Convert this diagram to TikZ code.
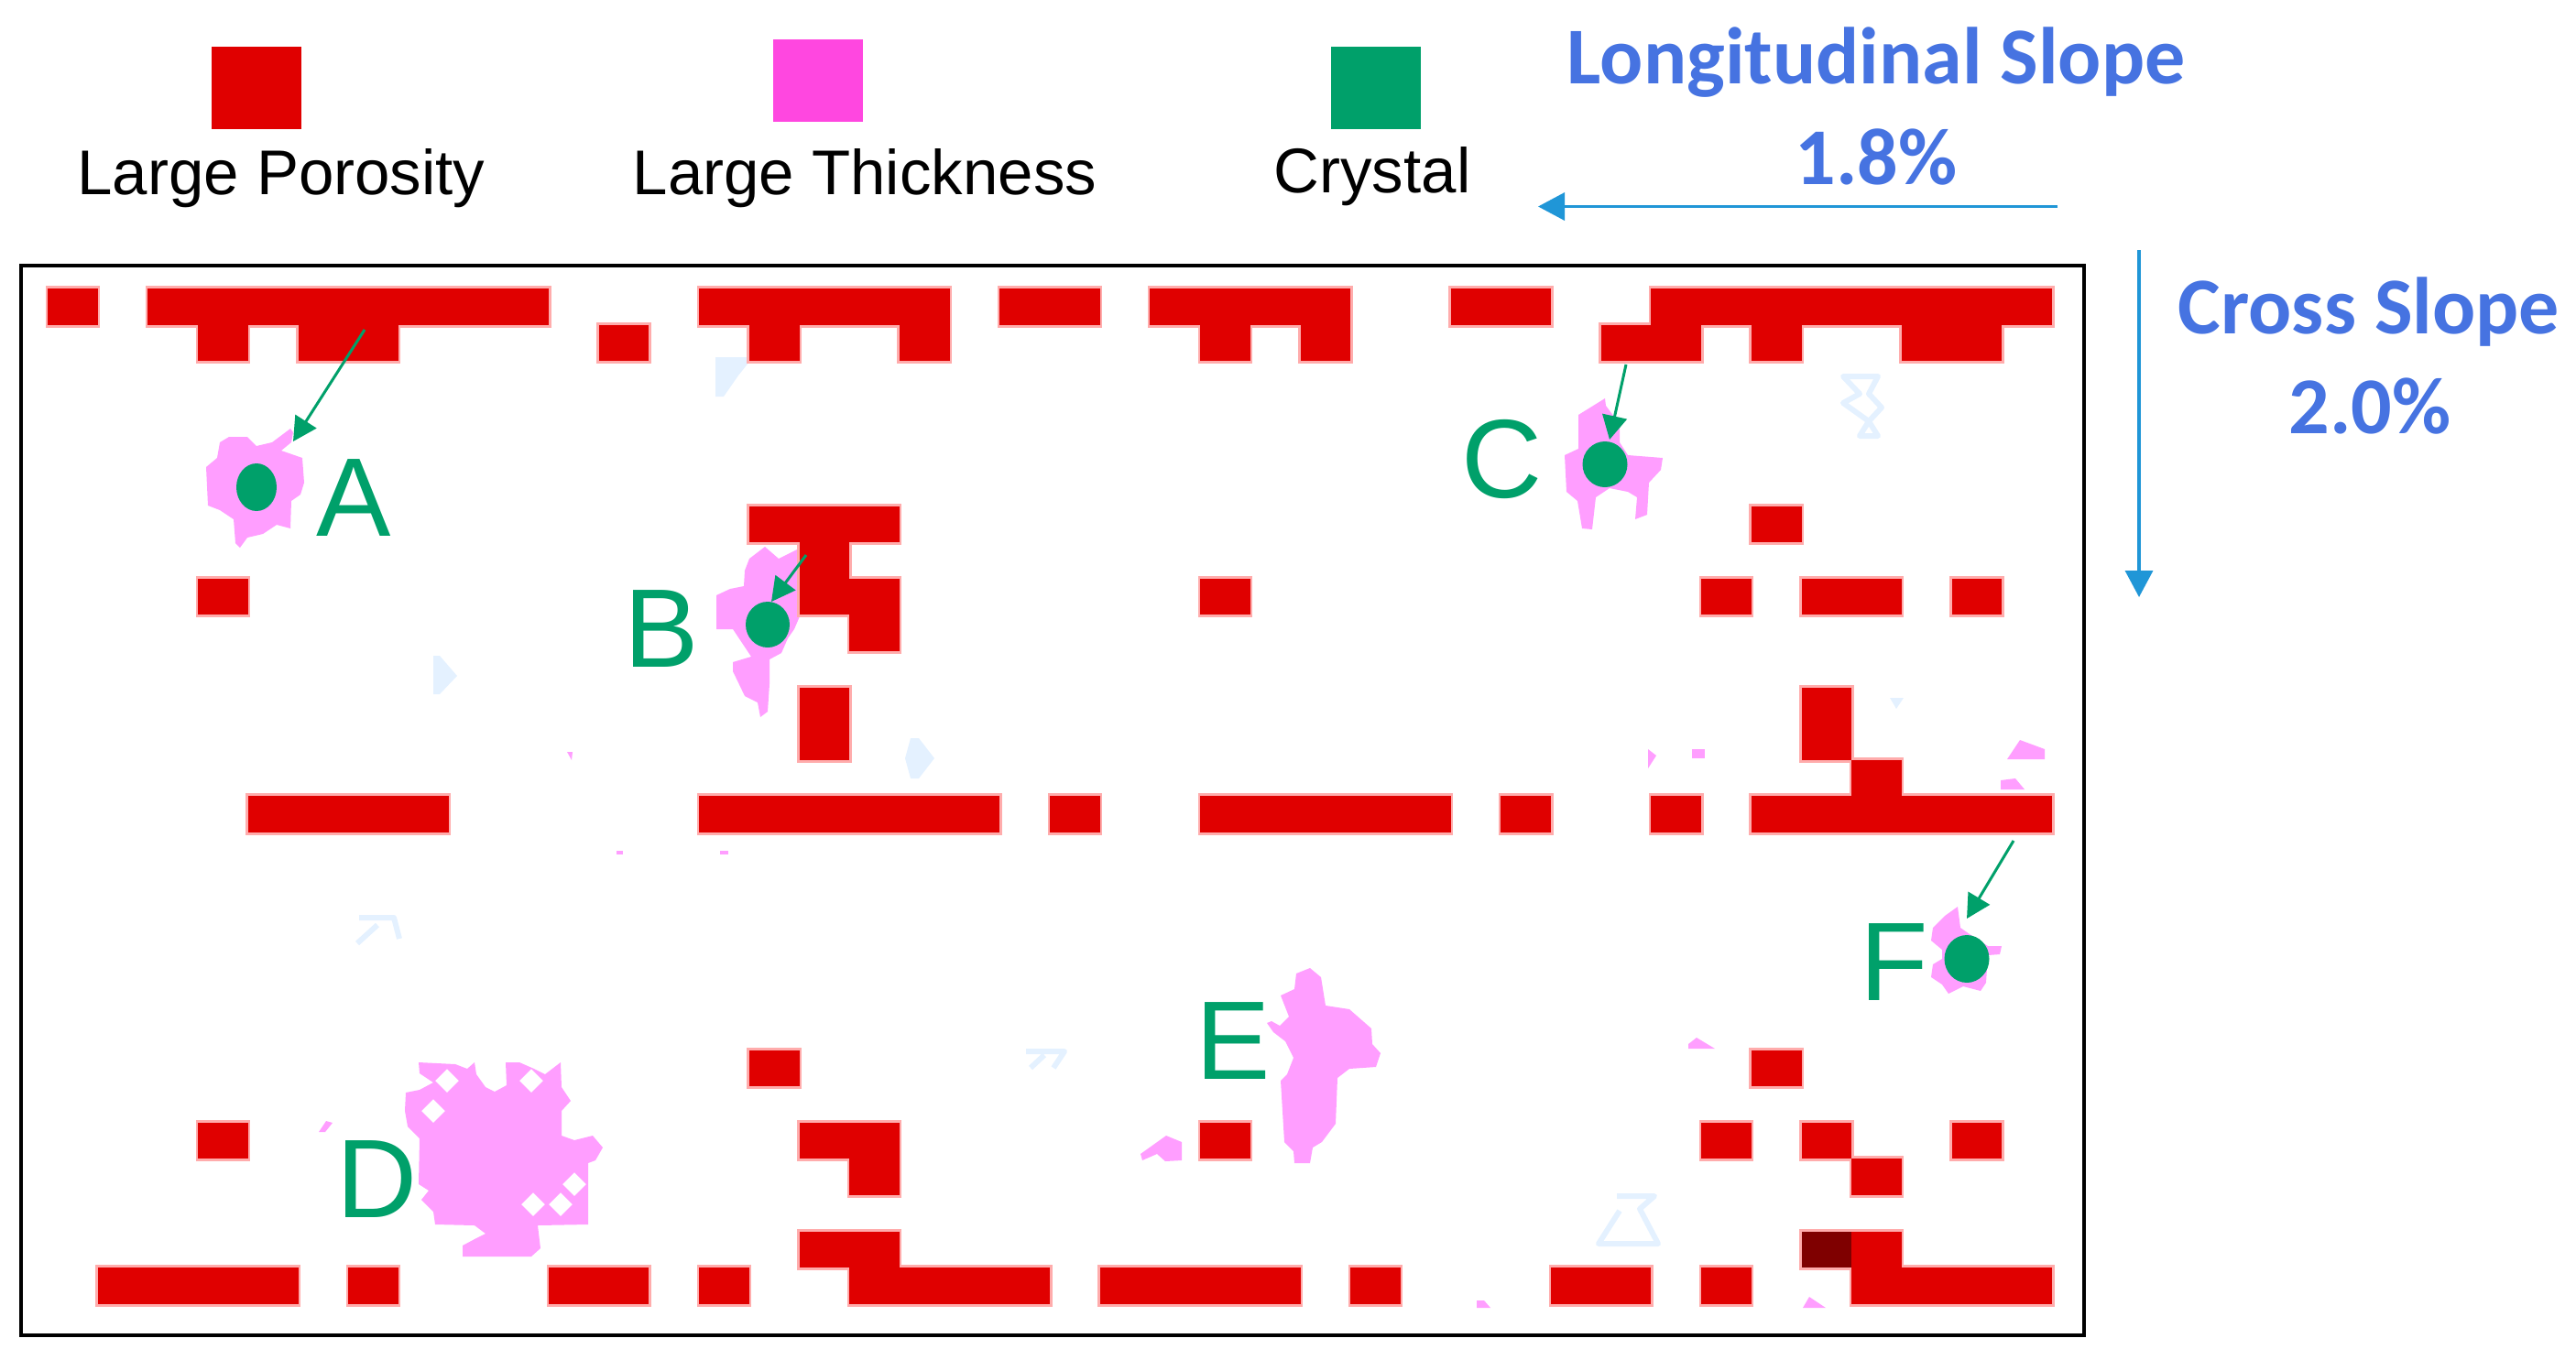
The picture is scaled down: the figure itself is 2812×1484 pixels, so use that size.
\documentclass[tikz,border=0pt]{standalone}
\usepackage{fontspec}
\setmainfont{Liberation Sans}
\newfontfamily\calib{Carlito}
\usetikzlibrary{arrows.meta,shapes.geometric}
\definecolor{poro}{RGB}{224,0,0}
\definecolor{porohalo}{RGB}{255,172,172}
\definecolor{porodark}{RGB}{127,0,0}
\definecolor{thick}{RGB}{255,158,255}
\definecolor{thicklg}{RGB}{255,71,224}
\definecolor{cryst}{RGB}{0,160,106}
\definecolor{slopetxt}{RGB}{70,115,225}
\definecolor{slopearr}{RGB}{32,150,215}
\definecolor{faint}{RGB}{228,241,255}
\begin{document}
\begin{tikzpicture}[x=1pt,y=-1pt,
  lgtext/.style={inner sep=0pt,anchor=base,font=\fontsize{69}{80}\selectfont},
  slopetext/.style={inner sep=0pt,anchor=base,text=slopetxt,font=\calib\bfseries\fontsize{88}{100}\selectfont},
  lbl/.style={inner sep=0pt,anchor=base,text=cryst,font=\fontsize{122}{140}\selectfont},
  dot/.style={ellipse,fill=cryst,inner sep=0pt},
  callout/.style={draw=cryst,line width=3pt,-{Triangle[length=26pt,width=27pt]}},
  slarrow/.style={draw=slopearr,line width=3.5pt,-{Triangle[length=29pt,width=30pt]}},
  blob/.style={fill=thick},
  speck/.style={fill=thick},
  faintblob/.style={fill=faint},
  faintline/.style={draw=faint,line width=6pt,line join=round}]
\useasboundingbox (0,0) rectangle (2812,1484);

% ---------- legend ----------
\fill[poro] (231,51) rectangle (329,141);
\fill[thicklg] (844,43) rectangle (942,133);
\fill[cryst] (1453,51) rectangle (1551,141);
\node[lgtext] (tpor) at (307,212) {Large Porosity};
\node[lgtext] (tthk) at (944,212) {Large Thickness};
\node[lgtext] (tcry) at (1498,210) {Crystal};

% ---------- slopes ----------
\node[slopetext] (tlong) at (2048,91) {Longitudinal Slope};
\node[slopetext] (tlongv) at (2048,201) {1.8\%};
\node[slopetext] (tcross) at (2586,364) {Cross Slope};
\node[slopetext] (tcrossv) at (2587,473) {2.0\%};
\coordinate (lsS) at (2246,225.5);
\coordinate (lsE) at (1679,225.5);
\coordinate (csS) at (2335,273);
\coordinate (csE) at (2335,652);
\draw[slarrow] (lsS) -- (lsE);
\draw[slarrow] (csS) -- (csE);

% ---------- faint blue marks ----------
\fill[faintblob] (781,390) -- (822,390) -- (806,410) -- (790,433) -- (781,433) -- cycle;
\fill[faintblob] (473,716) -- (480,716) -- (499,738) -- (480,758) -- (473,758) -- cycle;
\fill[faintblob] (994,806) -- (1003,806) -- (1020,828) -- (1003,850) -- (994,850) -- (988,828) -- cycle;
\draw[faintline] (392,1002) -- (430,1002) -- (436,1025) (412,1010) -- (390,1030);
\draw[faintline] (1120,1148) -- (1162,1148) -- (1150,1166) (1140,1152) -- (1125,1166);
\draw[faintline] (2012,411) -- (2050,411) -- (2040,430) -- (2054,445) -- (2040,460) -- (2050,476) -- (2030,476) -- (2040,460) -- (2012,440) -- (2030,430) -- cycle;
\draw[faintline] (1765,1306) -- (1806,1306) -- (1790,1320) -- (1810,1358) -- (1745,1358) -- (1768,1322);
\fill[faintblob] (2063,762) -- (2078,762) -- (2070,774) -- cycle;

% ---------- thickness blobs ----------
\fill[blob] (240,483) -- (250,477) -- (270,477) -- (280,487) -- (297,483) -- (317,468) -- (320,472) -- (318,483) -- (307,492) -- (330,500) -- (332,527) -- (328,540) -- (318,547) -- (317,577) -- (302,573) -- (287,583) -- (270,587) -- (262,598) -- (257,593) -- (255,567) -- (240,557) -- (227,552) -- (225,510) -- (237,500) -- cycle;
\fill[blob] (818,610) -- (835,597) -- (850,610) -- (870,600) -- (873,597) -- (873,673) -- (867,687) -- (860,697) -- (853,713) -- (840,720) -- (840,747) -- (838,777) -- (830,783) -- (827,767) -- (813,760) -- (800,733) -- (800,723) -- (820,717) -- (800,687) -- (782,687) -- (782,650) -- (797,643) -- (812,640) -- (813,623) -- cycle;
\fill[blob] (1723,453) -- (1752,435) -- (1753,443) -- (1768,463) -- (1768,483) -- (1777,497) -- (1815,500) -- (1813,513) -- (1800,527) -- (1798,562) -- (1785,567) -- (1787,543) -- (1777,537) -- (1757,533) -- (1742,543) -- (1738,578) -- (1727,577) -- (1722,547) -- (1710,537) -- (1708,497) -- (1723,490) -- cycle;
\fill[blob,even odd rule] (457,1160) -- (497,1162) -- (510,1167) -- (518,1160) -- (520,1173) -- (530,1187) -- (540,1192) -- (553,1185) -- (552,1160) -- (567,1160) -- (583,1167) -- (595,1173) -- (612,1160) -- (613,1187) -- (623,1202) -- (613,1213) -- (613,1240) -- (627,1245) -- (647,1240) -- (658,1253) -- (650,1267) -- (642,1270) -- (642,1337) -- (587,1338) -- (590,1363) -- (580,1372) -- (505,1372) -- (505,1360) -- (520,1352) -- (530,1347) -- (518,1338) -- (475,1337) -- (473,1323) -- (460,1310) -- (468,1300) -- (457,1293) -- (458,1243) -- (445,1230) -- (442,1213) -- (443,1193) -- (458,1190) -- (473,1182) -- (458,1172) -- cycle
  (488,1167) -- (501,1180) -- (488,1193) -- (475,1180) -- cycle
  (473,1200) -- (486,1213) -- (473,1226) -- (460,1213) -- cycle
  (580,1167) -- (593,1180) -- (580,1193) -- (567,1180) -- cycle
  (627,1280) -- (640,1293) -- (627,1306) -- (614,1293) -- cycle
  (582,1302) -- (595,1315) -- (582,1328) -- (569,1315) -- cycle
  (612,1302) -- (625,1315) -- (612,1328) -- (599,1315) -- cycle;
\fill[blob] (1415,1063) -- (1430,1057) -- (1442,1067) -- (1447,1098) -- (1473,1102) -- (1497,1123) -- (1498,1140) -- (1507,1150) -- (1502,1165) -- (1473,1167) -- (1460,1177) -- (1458,1227) -- (1443,1247) -- (1433,1253) -- (1430,1270) -- (1413,1270) -- (1412,1257) -- (1402,1247) -- (1398,1180) -- (1405,1173) -- (1412,1155) -- (1403,1137) -- (1390,1127) -- (1383,1117) -- (1388,1115) -- (1397,1120) -- (1407,1110) -- (1398,1087) -- (1413,1080) -- cycle;
\fill[blob] (1245,1260) -- (1273,1240) -- (1290,1247) -- (1290,1267) -- (1272,1268) -- (1263,1260) -- (1247,1267) -- cycle;
\fill[blob] (2123,1000) -- (2137,990) -- (2140,1013) -- (2150,1020) -- (2170,1033) -- (2185,1033) -- (2183,1042) -- (2170,1043) -- (2168,1073) -- (2162,1082) -- (2143,1077) -- (2127,1085) -- (2120,1075) -- (2108,1067) -- (2110,1053) -- (2120,1047) -- (2120,1037) -- (2108,1027) -- (2110,1013) -- cycle;
% small specks
\fill[speck] (348,1236) -- (356,1224) -- (363,1226) -- (355,1236) -- cycle;
\fill[speck] (1799,818) -- (1808,825) -- (1799,839) -- cycle;
\fill[speck] (1847,818) rectangle (1861,828);
\fill[speck] (2191,829) -- (2205,808) -- (2232,818) -- (2232,829) -- cycle;
\fill[speck] (2184,852) -- (2200,850) -- (2210,862) -- (2184,862) -- cycle;
\fill[speck] (1843,1140) -- (1852,1133) -- (1872,1145) -- (1843,1145) -- cycle;
\fill[speck] (1968,1428) -- (1975,1416) -- (1993,1428) -- cycle;
\fill[speck] (1612,1420) -- (1620,1420) -- (1627,1428) -- (1612,1428) -- cycle;
\fill[speck] (619,821) -- (625,821) -- (624,830) -- cycle;
\fill[speck] (673,929) rectangle (680,933);
\fill[speck] (786,929) rectangle (795,933);

% ---------- porosity cells ----------
\def\runs{0/0/0, 2/9/0, 13/17/0, 19/20/0, 22/25/0, 28/29/0, 32/39/0,
  3/3/1, 5/6/1, 11/11/1, 14/14/1, 17/17/1, 23/23/1, 25/25/1, 31/32/1, 34/34/1, 37/38/1,
  14/16/6, 34/34/6, 15/15/7,
  3/3/8, 15/16/8, 23/23/8, 33/33/8, 35/36/8, 38/38/8,
  16/16/9, 15/15/11, 35/35/11, 15/15/12, 35/35/12, 36/36/13,
  4/7/14, 13/18/14, 20/20/14, 23/27/14, 29/29/14, 32/32/14, 34/39/14,
  14/14/21, 34/34/21,
  3/3/23, 15/16/23, 23/23/23, 33/33/23, 35/35/23, 38/38/23,
  16/16/24, 36/36/24, 15/16/26, 35/36/26,
  1/4/27, 6/6/27, 10/11/27, 13/13/27, 16/19/27, 21/24/27, 26/26/27, 30/31/27, 33/33/27, 36/39/27}
\foreach \a/\b/\r in \runs {
  \fill[porohalo] ({52+54.7*\a-2.5},{315+39.6*\r-3}) rectangle ({52+54.7*(\b+1)+2.5},{315+39.6*(\r+1)+3});
}
\foreach \a/\b/\r in \runs {
  \fill[poro] ({52+54.7*\a},{315+39.6*\r}) rectangle ({52+54.7*(\b+1)},{315+39.6*(\r+1)});
}
\fill[porodark] ({52+54.7*35},{315+39.6*26}) rectangle ({52+54.7*36},{315+39.6*27});

% ---------- frame ----------
\draw[line width=4pt] (23,289.5) rectangle (2274.5,1458);

% ---------- crystals ----------
\node[dot,minimum width=44pt,minimum height=52pt] (dA) at (280,532) {};
\node[dot,minimum width=48pt,minimum height=50pt] (dB) at (838,682) {};
\node[dot,minimum width=49pt,minimum height=50pt] (dC) at (1752,507) {};
\node[dot,minimum width=49pt,minimum height=52pt] (dF) at (2147,1047) {};

\coordinate (aS) at (398,360);  \coordinate (aE) at (320,482);
\coordinate (bS) at (880,606);  \coordinate (bE) at (842,657);
\coordinate (cS) at (1775,398); \coordinate (cE) at (1757,480);
\coordinate (fS) at (2198,918); \coordinate (fE) at (2147,1003);
\draw[callout] (aS) -- (aE);
\draw[callout] (bS) -- (bE);
\draw[callout] (cS) -- (cE);
\draw[callout] (fS) -- (fE);

% ---------- labels ----------
\node[lbl] (lA) at (386,585) {A};
\node[lbl] (lB) at (722,728) {B};
\node[lbl] (lC) at (1640,543) {C};
\node[lbl] (lD) at (412,1329) {D};
\node[lbl] (lE) at (1346,1178) {E};
\node[lbl] (lF) at (2068,1092) {F};
\end{tikzpicture}
\end{document}
